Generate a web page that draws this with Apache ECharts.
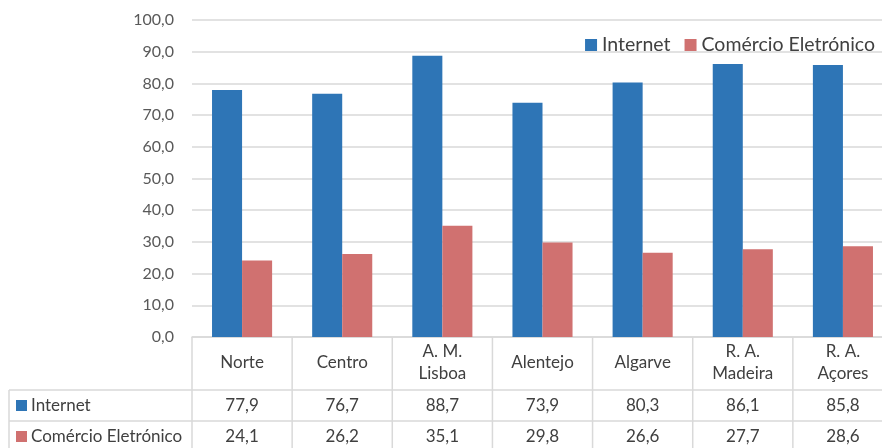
<!DOCTYPE html>
<html>
<head>
<meta charset="utf-8">
<script src="https://cdn.jsdelivr.net/npm/echarts@6/dist/echarts.min.js"></script>
<style>
  html, body { margin: 0; padding: 0; background: #fff; }
  #chart { width: 882px; height: 448px; }
</style>
</head>
<body>
<div id="chart"></div>
<script>
// Regions (category axis) and their values, in percent
const regions = ['Norte', 'Centro', 'A. M.\nLisboa', 'Alentejo', 'Algarve', 'R. A.\nMadeira', 'R. A.\nAçores'];
const internet = [77.9, 76.7, 88.7, 73.9, 80.3, 86.1, 85.8];
const comercio = [24.1, 26.2, 35.1, 29.8, 26.6, 27.7, 28.6];
const seriesNames = ['Internet', 'Comércio Eletrónico'];
const yTicks = { min: 0, max: 100, interval: 10 };

const BLUE = '#2E75B6';
const RED = '#D07170';
const LINE = '#D9D9D9';
const FONT = 'Lato';
const fmt = v => v.toFixed(1).replace('.', ',');

const chart = echarts.init(document.getElementById('chart'), null, { renderer: 'canvas' });

const option = {
  animation: false,
  backgroundColor: '#fff',
  textStyle: { fontFamily: FONT },
  // the plot runs a little past the right edge of the canvas
  grid: {
    left: 192, top: 20, width: 701, height: 317,
    containLabel: false,
    outerBoundsMode: 'none'
  },
  legend: {
    data: seriesNames,
    right: 2,
    top: 30,
    icon: 'rect',
    itemWidth: 12,
    itemHeight: 12,
    itemGap: 14,
    itemStyle: { borderWidth: 0 },
    textStyle: { fontSize: 19.5, color: '#404040', fontFamily: FONT }
  },
  xAxis: {
    type: 'category',
    data: regions,
    axisLine: { lineStyle: { color: LINE, width: 1.5 } },
    axisTick: { show: false },
    axisLabel: {
      interval: 0,
      margin: 26,
      verticalAlign: 'middle',
      lineHeight: 22,
      fontSize: 17,
      color: '#404040',
      fontFamily: FONT
    }
  },
  yAxis: {
    type: 'value',
    min: yTicks.min,
    max: yTicks.max,
    interval: yTicks.interval,
    axisLine: { show: false },
    axisTick: { show: false },
    splitLine: { lineStyle: { color: LINE, width: 1.5 } },
    axisLabel: {
      margin: 18,
      fontSize: 16,
      color: '#595959',
      fontFamily: FONT,
      formatter: fmt
    }
  },
  series: [
    {
      name: seriesNames[0],
      type: 'bar',
      data: internet,
      itemStyle: { color: BLUE },
      barGap: '0%',
      barCategoryGap: '40%'
    },
    {
      name: seriesNames[1],
      type: 'bar',
      data: comercio,
      itemStyle: { color: RED },
      barGap: '0%',
      barCategoryGap: '40%'
    }
  ]
};

chart.setOption(option);

// Data table below the plot, aligned to the category axis
function buildTable() {
  const xs = regions.map((_, i) => chart.convertToPixel({ xAxisIndex: 0 }, i));
  const band = xs[1] - xs[0];
  const y0 = chart.convertToPixel({ yAxisIndex: 0 }, 0);
  const rowTop = y0 + 53;
  const rowH = 31;
  const tableLeft = 9;
  const gridLeft = xs[0] - band / 2;
  const right = xs[xs.length - 1] + band / 2;
  const bottom = 460;
  const elements = [];
  const line = (x1, y1, x2, y2) => ({
    type: 'line',
    silent: true,
    shape: { x1, y1, x2, y2 },
    style: { stroke: LINE, lineWidth: 1.5 }
  });

  // horizontal rules
  elements.push(line(tableLeft, rowTop, right, rowTop));
  elements.push(line(tableLeft, rowTop + rowH, right, rowTop + rowH));
  elements.push(line(tableLeft, rowTop + 2 * rowH, right, rowTop + 2 * rowH));
  // vertical rules
  elements.push(line(tableLeft, rowTop, tableLeft, bottom));
  for (let i = 0; i <= regions.length; i++) {
    const x = gridLeft + i * band;
    elements.push(line(x, y0, x, bottom));
  }

  const rows = [internet, comercio];
  const colors = [BLUE, RED];
  rows.forEach((vals, r) => {
    const cy = rowTop + rowH * r + rowH / 2;
    elements.push({
      type: 'rect',
      silent: true,
      shape: { x: 16, y: cy - 5.5, width: 11, height: 11 },
      style: { fill: colors[r] }
    });
    elements.push({
      type: 'text',
      silent: true,
      x: 31,
      y: cy,
      style: {
        text: seriesNames[r],
        fill: '#404040',
        font: '17px ' + FONT,
        textAlign: 'left',
        textVerticalAlign: 'middle'
      }
    });
    vals.forEach((v, i) => {
      elements.push({
        type: 'text',
        silent: true,
        x: xs[i],
        y: cy,
        style: {
          text: fmt(v),
          fill: '#404040',
          font: '17px ' + FONT,
          textAlign: 'center',
          textVerticalAlign: 'middle'
        }
      });
    });
  });

  chart.setOption({ graphic: { elements } });
}

buildTable();
</script>
</body>
</html>
